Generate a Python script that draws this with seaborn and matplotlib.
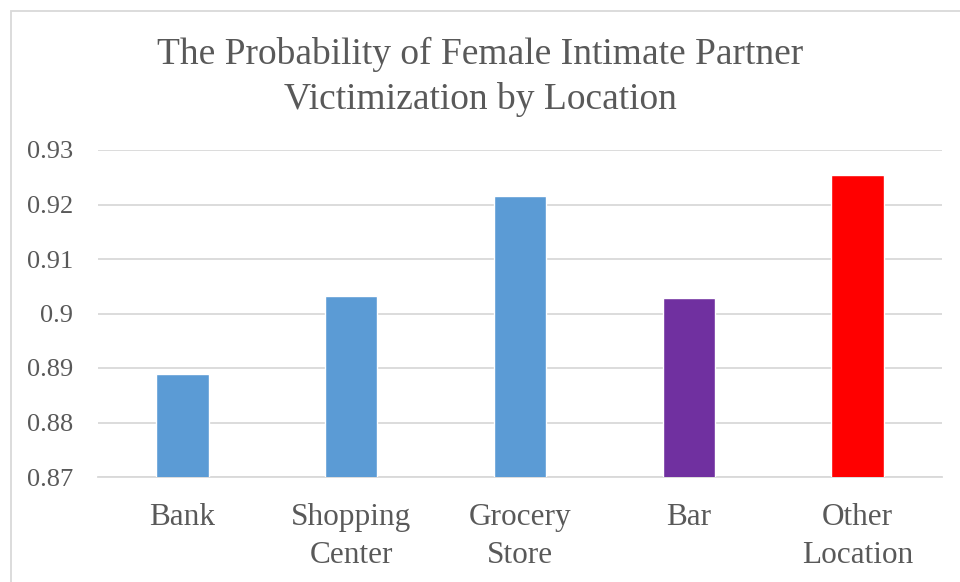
import matplotlib
matplotlib.use("Agg")
import matplotlib.pyplot as plt
import pandas as pd
import seaborn as sns
from matplotlib.patches import Rectangle

locations = ["Bank", "Shopping\nCenter", "Grocery\nStore", "Bar", "Other\nLocation"]
probabilities = [0.8889, 0.9032, 0.9216, 0.9028, 0.9254]
bar_colors = ["#5B9BD5", "#5B9BD5", "#5B9BD5", "#7030A0", "#FF0000"]
y_ticks = [0.87, 0.88, 0.89, 0.90, 0.91, 0.92, 0.93]
y_tick_labels = ["0.87", "0.88", "0.89", "0.9", "0.91", "0.92", "0.93"]

sns.set_style("white")
plt.rcParams["font.family"] = ["Liberation Serif", "DejaVu Serif"]

df = pd.DataFrame({"location": locations, "prob": probabilities})

fig = plt.figure(figsize=(9.6, 5.82), dpi=100)
ax = fig.add_axes([98 / 960, 1 - 477 / 582, (942 - 98) / 960, (477 - 150) / 582])

sns.barplot(data=df, x="location", y="prob", hue="location", palette=bar_colors,
            legend=False, width=0.31, saturation=1, ax=ax, zorder=3)

ax.set_ylim(0.87, 0.93)
ax.set_yticks(y_ticks)
ax.set_yticklabels(y_tick_labels)
ax.yaxis.grid(True, color="#D9D9D9", linewidth=1.3, zorder=0)
ax.set_axisbelow(True)
for s in ["top", "right", "left"]:
    ax.spines[s].set_visible(False)
ax.spines["bottom"].set_color("#D9D9D9")
ax.spines["bottom"].set_linewidth(1.3)
ax.set_xlabel("")
ax.set_ylabel("")
ax.tick_params(axis="y", labelsize=19, colors="#595959", length=0, pad=18)
ax.tick_params(axis="x", labelsize=22.5, colors="#595959", length=0, pad=19)
for lbl in ax.get_xticklabels():
    lbl.set_linespacing(1.4)

fig.text(0.5, 1 - 77 / 582, "The Probability of Female Intimate Partner\nVictimization by Location",
         ha="center", va="center", fontsize=27, color="#595959", linespacing=1.36)

# chart-area border (cropped at right/bottom in the reference)
fig.patches.append(Rectangle((11 / 960, -0.1), 1.2, 1 - 11 / 582 + 0.1,
                             transform=fig.transFigure, fill=False,
                             edgecolor="#D9D9D9", linewidth=1.3))

fig.savefig("out.png", dpi=100)
